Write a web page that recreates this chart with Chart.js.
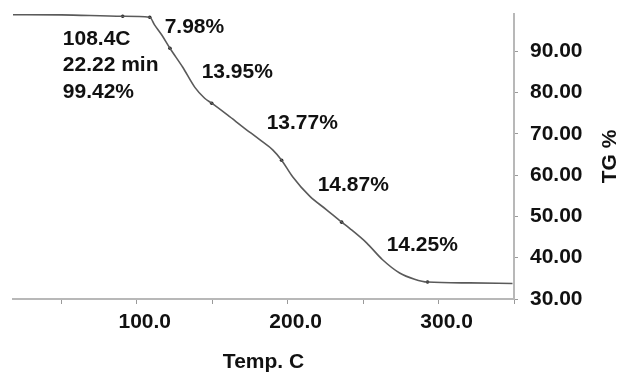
<!DOCTYPE html>
<html>
<head>
<meta charset="utf-8">
<title>TG curve</title>
<script src="https://cdn.jsdelivr.net/npm/chart.js@4/dist/chart.umd.min.js"></script>
<style>
    html, body { margin: 0; padding: 0; background: #ffffff; }
    #wrap { width: 619px; height: 372px; }
</style>
</head>
<body>
<div id="wrap"><canvas id="tg-chart" width="619" height="372"></canvas></div>
<script>
// TG curve (temperature in C, mass in %)
var temps = [18, 50, 90.7, 108.6, 111.9, 116.6, 122, 130.5, 138.4, 145.0, 149.7, 160.3, 170.2, 182.8, 190.1, 196.0, 203.3, 214.6, 225.8, 235.8, 241.1, 252.3, 262.9, 274.2, 284.1, 292.7, 320.5, 349];
var tgValues = [98.84, 98.8, 98.47, 98.23, 96.3, 93.9, 90.7, 86.1, 81.3, 78.6, 77.4, 74.5, 71.7, 68.2, 66.1, 63.6, 59.6, 54.9, 51.6, 48.6, 47.1, 43.6, 39.5, 36.3, 34.8, 34.1, 33.9, 33.75];

// small dots marking the step limits
var stepTemps = [90.7, 108.6, 122, 149.7, 196.0, 235.8, 292.7];
var stepTG = [98.47, 98.23, 90.7, 77.4, 63.6, 48.6, 34.1];

// axis ticks
var xTicks = [50, 100, 150, 200, 250, 300, 350];
var xLabelled = [100, 200, 300];
var yTicks = [30, 40, 50, 60, 70, 80, 90];

// text notes, anchored in data units
var noteTexts = ["108.4C", "22.22 min", "99.42%", "7.98%", "13.95%", "13.77%", "14.87%", "14.25%"];
var noteTemps = [51.0, 51.0, 51.0, 118.5, 143.0, 186.1, 219.9, 265.6];
var noteTG = [92.9, 86.6, 80.1, 95.8, 84.9, 72.6, 57.6, 43.1];

Chart.defaults.font.family = "'Liberation Sans', Arial, sans-serif";
Chart.defaults.color = "#111111";

// Plugin that writes the notes and the right-hand title
var notesPlugin = {
    id: "notes",
    afterDatasetsDraw: function(chart) {
        var ctx = chart.ctx;
        var xs = chart.scales.x;
        var ys = chart.scales.y;
        ctx.save();
        ctx.fillStyle = "#111111";
        ctx.font = "bold 21px 'Liberation Sans', Arial, sans-serif";
        ctx.textAlign = "left";
        ctx.textBaseline = "middle";
        for (var i = 0; i < noteTexts.length; i++) {
            ctx.fillText(noteTexts[i], xs.getPixelForValue(noteTemps[i]), ys.getPixelForValue(noteTG[i]));
        }
        // y title, reading bottom to top
        ctx.translate(chart.width - 9, (chart.chartArea.top + chart.chartArea.bottom) / 2);
        ctx.rotate(-Math.PI / 2);
        ctx.textAlign = "center";
        ctx.fillText("TG %", 0, 0);
        ctx.restore();
    }
};

var ctx = document.getElementById("tg-chart").getContext("2d");

var chart = new Chart(ctx, {
    type: "line",
    data: {
        datasets: [{
            label: "TG",
            data: temps.map(function(t, i) { return { x: t, y: tgValues[i] }; }),
            borderColor: "#5a5a5a",
            borderWidth: 1.6,
            pointRadius: 0,
            cubicInterpolationMode: "monotone",
            fill: false
        }, {
            label: "steps",
            data: stepTemps.map(function(t, i) { return { x: t, y: stepTG[i] }; }),
            showLine: false,
            pointRadius: 1.8,
            pointBackgroundColor: "#222222",
            pointBorderWidth: 0
        }]
    },
    options: {
        responsive: false,
        animation: false,
        events: [],
        layout: {
            padding: { left: 13, top: 14, right: 0, bottom: 0 }
        },
        plugins: {
            legend: { display: false },
            tooltip: { enabled: false }
        },
        scales: {
            x: {
                type: "linear",
                min: 18,
                max: 350,
                afterBuildTicks: function(scale) {
                    scale.ticks = xTicks.map(function(v) { return { value: v }; });
                },
                afterFit: function(scale) {
                    scale.height = 73;
                    scale.paddingLeft = 0;
                    scale.paddingRight = 0;
                },
                border: { display: true, color: "#b8b8b8", width: 2 },
                grid: {
                    drawOnChartArea: false,
                    drawTicks: true,
                    tickLength: 5,
                    tickColor: "#9a9a9a",
                    tickWidth: 1
                },
                ticks: {
                    padding: 6,
                    labelOffset: 8,
                    maxRotation: 0,
                    autoSkip: false,
                    font: { size: 21, weight: "bold" },
                    callback: function(v) {
                        return xLabelled.indexOf(v) >= 0 ? v.toFixed(1) : "";
                    }
                },
                title: {
                    display: true,
                    text: "Temp. C",
                    font: { size: 21, weight: "bold", lineHeight: 0.9 },
                    padding: { top: 0, bottom: 0 }
                }
            },
            y: {
                type: "linear",
                position: "right",
                min: 30,
                max: 99,
                afterBuildTicks: function(scale) {
                    scale.ticks = yTicks.map(function(v) { return { value: v }; });
                },
                afterFit: function(scale) {
                    scale.width = 105;
                    scale.paddingTop = 0;
                    scale.paddingBottom = 0;
                },
                border: { display: true, color: "#b8b8b8", width: 2 },
                grid: {
                    drawOnChartArea: false,
                    drawTicks: true,
                    tickLength: 4,
                    tickColor: "#9a9a9a",
                    tickWidth: 1
                },
                ticks: {
                    padding: 12,
                    autoSkip: false,
                    font: { size: 21, weight: "bold" },
                    callback: function(v) { return v.toFixed(2); }
                }
            }
        }
    },
    plugins: [notesPlugin]
});
</script>
</body>
</html>
